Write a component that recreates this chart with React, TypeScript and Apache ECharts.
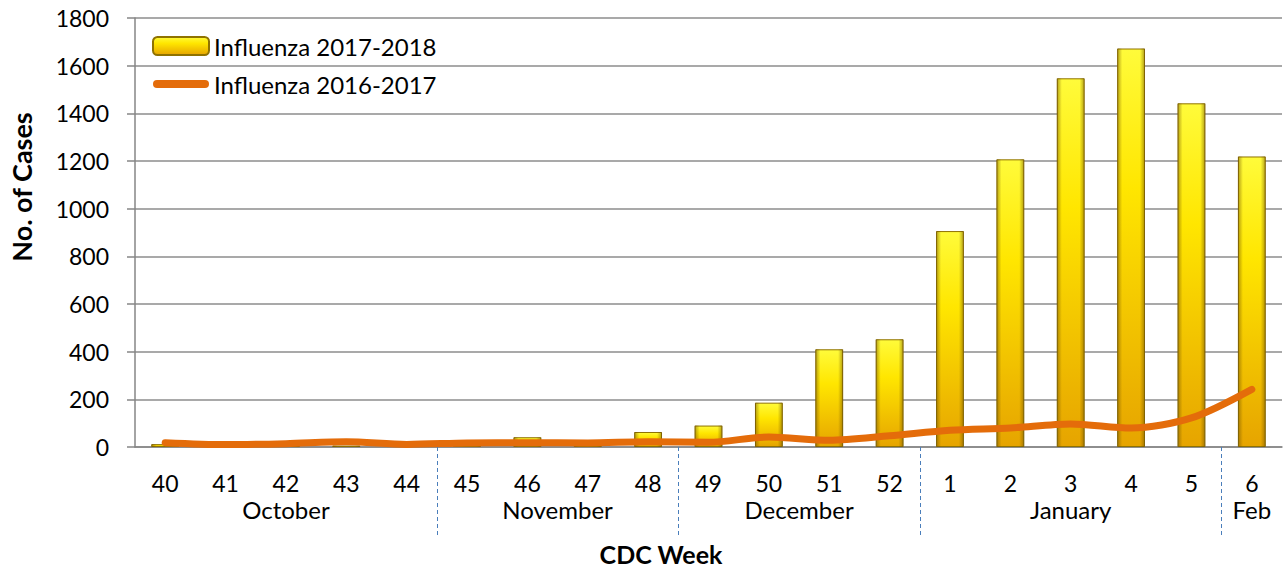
import React, { useEffect, useRef } from "react";
import * as echarts from "echarts";

const categories = ["40","41","42","43","44","45","46","47","48","49","50","51","52","1","2","3","4","5","6"];
const flu2017_2018 = [12, 3, 4, 6, 4, 5, 41, 8, 63, 90, 186, 410, 452, 906, 1207, 1547, 1672, 1442, 1219];
const flu2016_2017 = [18, 10, 14, 22, 11, 17, 18, 17, 22, 20, 42, 28, 47, 70, 80, 97, 80, 122, 242];
const months = ["October", "November", "December", "January", "Feb"];
const monthWeeks = [5, 4, 4, 5, 1];
const yTicks = [0, 200, 400, 600, 800, 1000, 1200, 1400, 1600, 1800];

const FONT = "Lato";
const LINE_ICON = "path://M4,0 H52 A4,4 0 0 1 52,8 H4 A4,4 0 0 1 4,0 Z";

export default function App() {
  const ref = useRef<HTMLDivElement>(null);
  useEffect(() => {
    if (!ref.current) return;
    const chart = echarts.init(ref.current, null, { renderer: "svg" });
    const boundaries: number[] = [];
    const centers: number[] = [];
    let acc = 0;
    monthWeeks.forEach((n, i) => {
      centers.push(acc + n / 2);
      acc += n;
      if (i < monthWeeks.length - 1) boundaries.push(acc);
    });
    const monthFor = (v: number) => {
      const i = centers.findIndex((c) => Math.abs(c - v) < 1e-6);
      return i >= 0 ? months[i] : "";
    };
    chart.setOption({
      animation: false,
      textStyle: { fontFamily: FONT },
      grid: { left: 135, right: 4, top: 18, bottom: 122, containLabel: false },
      legend: {
        orient: "vertical",
        left: 152,
        top: 34,
        padding: 0,
        itemWidth: 56,
        itemHeight: 18,
        itemGap: 14,
        textStyle: { fontFamily: FONT, fontSize: 24, color: "#000" },
        data: [
          { name: "Influenza 2017-2018" },
          { name: "Influenza 2016-2017", icon: LINE_ICON },
        ],
      },
      xAxis: [
        {
          type: "category",
          data: categories,
          boundaryGap: true,
          axisLine: { lineStyle: { color: "#868686", width: 1.5 } },
          axisTick: { length: 7, lineStyle: { color: "#868686", width: 1.5 } },
          axisLabel: { fontFamily: FONT, fontSize: 23, color: "#000", margin: 24 },
        },
        {
          type: "value",
          min: 0,
          max: categories.length,
          position: "bottom",
          axisLine: { show: false },
          splitLine: { show: false },
          axisTick: {
            show: true,
            customValues: boundaries,
            length: 90,
            lineStyle: { color: "#4a7ebb", width: 1, type: [4, 3] },
          },
          axisLabel: {
            customValues: centers,
            formatter: (v: number) => monthFor(v),
            fontFamily: FONT,
            fontSize: 24,
            color: "#000",
            margin: 50,
          },
        },
      ],
      yAxis: {
        type: "value",
        min: yTicks[0],
        max: yTicks[yTicks.length - 1],
        interval: 200,
        axisLine: { show: true, lineStyle: { color: "#868686", width: 1.5 } },
        axisTick: { show: true, length: 8, lineStyle: { color: "#868686", width: 1.5 } },
        splitLine: { lineStyle: { color: "#8c8c8c", width: 1.5 } },
        axisLabel: {
          fontFamily: FONT,
          fontSize: 23,
          color: "#000",
          margin: 26,
          formatter: (v: number) => String(v),
        },
      },
      graphic: [
        {
          type: "text",
          x: 661,
          y: 554,
          style: {
            text: "CDC Week",
            fontFamily: FONT,
            fontSize: 25,
            fontWeight: "bold",
            fill: "#000",
            align: "center",
            verticalAlign: "middle",
          },
        },
        {
          type: "text",
          x: 21,
          y: 187,
          rotation: Math.PI / 2,
          style: {
            text: "No. of Cases",
            fontFamily: FONT,
            fontSize: 27,
            fontWeight: "bold",
            fill: "#000",
            align: "center",
            verticalAlign: "middle",
          },
        },
      ],
      series: [
        {
          name: "Influenza 2017-2018",
          type: "bar",
          data: flu2017_2018,
          barWidth: "46%",
          z: 2,
          itemStyle: {
            color: new echarts.graphic.LinearGradient(0, 0, 0, 1, [
              { offset: 0, color: "#fffb3a" },
              { offset: 0.35, color: "#ffe600" },
              { offset: 1, color: "#e6a400" },
            ]),
            borderColor: "#8f7200",
            borderWidth: 1,
          },
        },
        {
          name: "shade",
          type: "bar",
          data: flu2017_2018,
          barWidth: "46%",
          barGap: "-100%",
          z: 3,
          silent: true,
          itemStyle: {
            color: new echarts.graphic.LinearGradient(0, 0, 1, 0, [
              { offset: 0, color: "rgba(110,80,0,0.55)" },
              { offset: 0.18, color: "rgba(110,80,0,0)" },
              { offset: 0.82, color: "rgba(110,80,0,0)" },
              { offset: 1, color: "rgba(110,80,0,0.55)" },
            ]),
          },
        },
        {
          name: "Influenza 2016-2017",
          type: "line",
          data: flu2016_2017,
          smooth: 0.3,
          symbol: "none",
          z: 5,
          lineStyle: { color: "#e46c0a", width: 7, cap: "round", join: "round" },
          itemStyle: { color: "#e46c0a" },
        },
      ],
    });
    return () => chart.dispose();
  }, []);
  return (
    <div
      ref={ref}
      style={{ position: "absolute", left: 0, top: 0, width: 1286, height: 569 }}
    />
  );
}
